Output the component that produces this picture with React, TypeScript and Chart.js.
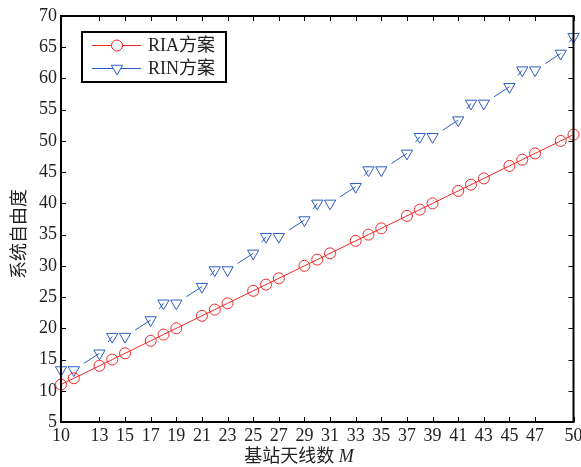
import React, { useEffect, useRef } from 'react';
import { Chart, registerables } from 'chart.js';

Chart.register(...registerables);

// ---- data ----
const antennaCounts = [10, 11, 13, 14, 15, 17, 18, 19, 21, 22, 23, 25, 26, 27, 29, 30, 31, 33, 34, 35, 37, 38, 39, 41, 42, 43, 45, 46, 47, 49, 50];
const riaDof = [11, 12, 14, 15, 16, 18, 19, 20, 22, 23, 24, 26, 27, 28, 30, 31, 32, 34, 35, 36, 38, 39, 40, 42, 43, 44, 46, 47, 48, 50, 51];
const rinDof = [13.33, 13.33, 16, 18.67, 18.67, 21.33, 24, 24, 26.67, 29.33, 29.33, 32, 34.67, 34.67, 37.33, 40, 40, 42.67, 45.33, 45.33, 48, 50.67, 50.67, 53.33, 56, 56, 58.67, 61.33, 61.33, 64, 66.67];
const xTickValues = [10, 13, 15, 17, 19, 21, 23, 25, 27, 29, 31, 33, 35, 37, 39, 41, 43, 45, 47, 50];
const yTickValues = [5, 10, 15, 20, 25, 30, 35, 40, 45, 50, 55, 60, 65, 70];
const seriesNames = ['RIA方案', 'RIN方案'];
const xTitleText = '基站天线数 ';
const xTitleVar = 'M';
const yTitleText = '系统自由度';

const RED = 'rgb(240,40,40)';
const BLUE = 'rgb(44,92,190)';
const FONT = "'Liberation Serif', 'Noto Sans CJK SC', serif";

const rinSegmentDash = (ctx: any) => {
  const i0 = ctx.p0DataIndex;
  const i1 = ctx.p1DataIndex;
  const L = Math.hypot(ctx.p1.x - ctx.p0.x, ctx.p1.y - ctx.p0.y);
  const dM = antennaCounts[i1] - antennaCounts[i0];
  const dV = rinDof[i1] - rinDof[i0];
  if (dV === 0) return [0, L + 50];
  const visible = dM >= 2 ? 18.5 : 7;
  return [0, Math.max(L - visible, 0), L + 50, 10];
};

const framePlugin = {
  id: 'frame',
  afterDatasetsDraw(chart: any) {
    const { ctx, chartArea: a, scales } = chart;
    ctx.save();
    // inward ticks
    ctx.strokeStyle = '#000';
    ctx.lineWidth = 1;
    const tl = 5;
    ctx.beginPath();
    for (const v of xTickValues) {
      const x = Math.round(scales.x.getPixelForValue(v)) + 0.5;
      ctx.moveTo(x, a.bottom);
      ctx.lineTo(x, a.bottom - tl);
      ctx.moveTo(x, a.top);
      ctx.lineTo(x, a.top + tl);
    }
    for (const v of yTickValues) {
      const y = Math.round(scales.y.getPixelForValue(v)) + 0.5;
      ctx.moveTo(a.left, y);
      ctx.lineTo(a.left + tl, y);
      ctx.moveTo(a.right, y);
      ctx.lineTo(a.right - tl, y);
    }
    ctx.stroke();
    // box
    ctx.lineWidth = 2;
    ctx.strokeRect(a.left, a.top, a.right - a.left, a.bottom - a.top);

    // legend
    const lx = 82, ly = 32, lw = 144, lh = 50;
    ctx.fillStyle = '#fff';
    ctx.fillRect(lx, ly, lw, lh);
    ctx.strokeStyle = '#000';
    ctx.lineWidth = 2;
    ctx.strokeRect(lx, ly, lw, lh);
    const rows = [45, 68];
    const colors = [RED, BLUE];
    for (let i = 0; i < 2; i++) {
      const y = rows[i] + 0.5;
      ctx.strokeStyle = colors[i];
      ctx.lineWidth = 1;
      ctx.beginPath();
      ctx.moveTo(92, y);
      ctx.lineTo(141, y);
      ctx.stroke();
      const cx = 117;
      if (i === 0) {
        ctx.fillStyle = '#fff';
        ctx.beginPath();
        ctx.arc(cx, y, 5.5, 0, Math.PI * 2);
        ctx.fill();
        ctx.stroke();
      } else {
        const r = 6.5;
        ctx.fillStyle = '#fff';
        ctx.beginPath();
        ctx.moveTo(cx, y + r);
        ctx.lineTo(cx - r * Math.sqrt(3) / 2, y - r / 2);
        ctx.lineTo(cx + r * Math.sqrt(3) / 2, y - r / 2);
        ctx.closePath();
        ctx.fill();
        ctx.stroke();
      }
      ctx.fillStyle = '#222';
      ctx.font = `18px ${FONT}`;
      ctx.textAlign = 'left';
      ctx.textBaseline = 'middle';
      ctx.fillText(seriesNames[i], 148, rows[i] + 1);
    }

    // x title
    ctx.fillStyle = '#222';
    ctx.textBaseline = 'middle';
    ctx.textAlign = 'left';
    ctx.font = `18px ${FONT}`;
    const w1 = ctx.measureText(xTitleText).width;
    ctx.font = `italic 18px ${FONT}`;
    const w2 = ctx.measureText(xTitleVar).width;
    const startX = 299 - (w1 + w2) / 2;
    ctx.font = `18px ${FONT}`;
    ctx.fillText(xTitleText, startX, 457);
    ctx.font = `italic 18px ${FONT}`;
    ctx.fillText(xTitleVar, startX + w1, 457);

    // y title
    ctx.translate(20, 234);
    ctx.rotate(-Math.PI / 2);
    ctx.font = `18px ${FONT}`;
    ctx.textAlign = 'center';
    ctx.textBaseline = 'middle';
    ctx.fillText(yTitleText, 0, 0);
    ctx.restore();
  },
};

export default function App() {
  const canvasRef = useRef<HTMLCanvasElement | null>(null);

  useEffect(() => {
    document.body.style.margin = '0';
    const canvas = canvasRef.current;
    if (!canvas) return;
    const chart = new Chart(canvas, {
      type: 'line',
      data: {
        datasets: [
          {
            label: seriesNames[0],
            data: antennaCounts.map((m, i) => ({ x: m, y: riaDof[i] })),
            borderColor: RED,
            borderWidth: 1,
            backgroundColor: 'rgba(0,0,0,0)',
            pointStyle: 'circle',
            pointRadius: 5.5,
            pointBorderWidth: 1,
            pointBorderColor: RED,
            pointBackgroundColor: 'rgba(0,0,0,0)',
            tension: 0,
            clip: false,
          },
          {
            label: seriesNames[1],
            data: antennaCounts.map((m, i) => ({ x: m, y: rinDof[i] })),
            borderColor: BLUE,
            borderWidth: 1,
            backgroundColor: 'rgba(0,0,0,0)',
            pointStyle: 'triangle',
            pointRotation: 180,
            pointRadius: 6.5,
            pointBorderWidth: 1,
            pointBorderColor: BLUE,
            pointBackgroundColor: 'rgba(0,0,0,0)',
            tension: 0,
            clip: false,
            segment: {
              borderDash: rinSegmentDash,
            },
          },
        ],
      },
      options: {
        animation: false,
        responsive: false,
        devicePixelRatio: 1,
        layout: { padding: { top: 16, right: 6, left: 0, bottom: 0 } },
        plugins: {
          legend: { display: false },
          tooltip: { enabled: false },
          title: { display: false },
        },
        scales: {
          x: {
            type: 'linear',
            min: 10,
            max: 50,
            grid: { display: false, drawTicks: false },
            border: { display: false },
            afterBuildTicks: (scale: any) => {
              scale.ticks = xTickValues.map((v) => ({ value: v }));
            },
            afterFit: (scale: any) => {
              scale.height = 45;
              scale.paddingLeft = 0;
              scale.paddingRight = 0;
            },
            ticks: {
              autoSkip: false,
              maxRotation: 0,
              padding: 3,
              color: '#222',
              font: { family: FONT, size: 18 },
              callback: (v: any) => String(v),
            },
          },
          y: {
            type: 'linear',
            min: 5,
            max: 70,
            grid: { display: false, drawTicks: false },
            border: { display: false },
            afterBuildTicks: (scale: any) => {
              scale.ticks = yTickValues.map((v) => ({ value: v }));
            },
            afterFit: (scale: any) => {
              scale.width = 61;
              scale.paddingTop = 0;
              scale.paddingBottom = 0;
            },
            ticks: {
              autoSkip: false,
              padding: 4,
              color: '#222',
              font: { family: FONT, size: 18 },
              callback: (v: any) => String(v),
            },
          },
        },
      },
      plugins: [framePlugin],
    });
    return () => chart.destroy();
  }, []);

  return (
    <div style={{ width: 581, height: 467 }}>
      <canvas ref={canvasRef} width={581} height={467} style={{ display: 'block' }} />
    </div>
  );
}
